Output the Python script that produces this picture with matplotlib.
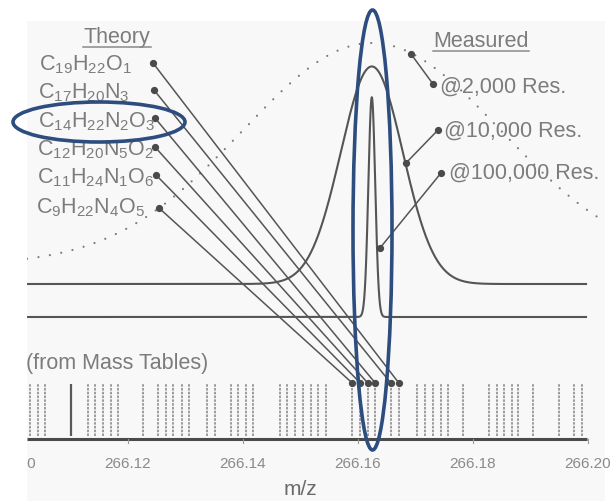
import numpy as np
import matplotlib
matplotlib.use("Agg")
import matplotlib.pyplot as plt
from matplotlib.patches import Ellipse, Rectangle

plt.rcParams["font.family"] = ["Liberation Sans", "DejaVu Sans"]

# ---------------- data ----------------
formulas = [r"C_{19}H_{22}O_{1}", r"C_{17}H_{20}N_{3}", r"C_{14}H_{22}N_{2}O_{3}",
            r"C_{12}H_{20}N_{5}O_{2}", r"C_{11}H_{24}N_{1}O_{6}", r"C_{9}H_{22}N_{4}O_{5}"]
formula_mz = [266.1671, 266.1657, 266.1630, 266.1617, 266.1604, 266.1590]

table_mz = [266.1030, 266.1043, 266.1056,
            266.1130, 266.1143, 266.1157, 266.1170, 266.1183,
            266.1226,
            266.1252, 266.1266, 266.1278, 266.1294, 266.1306,
            266.1337, 266.1351,
            266.1379, 266.1391, 266.1405, 266.1417,
            266.1464, 266.1477, 266.1490, 266.1504, 266.1518, 266.1530, 266.1544,
            266.1703, 266.1717, 266.1730, 266.1744, 266.1757,
            266.1783,
            266.1828, 266.1842, 266.1854, 266.1868, 266.1878,
            266.1904, 266.1950, 266.1976, 266.1990]
marked_table_mz = [266.1101]

resolution_labels = ["@2,000 Res.", "@10,000 Res.", "@100,000 Res."]
peak_center = 266.1624
peak_fwhm = [0.0528, 0.0127, 0.00140]
peak_height = [1.0, 0.98, 0.99]

tick_values = [266.10, 266.12, 266.14, 266.16, 266.18, 266.20]
tick_labels = ["266.10", "266.12", "266.14", "266.16", "266.18", "266.20"]

# ---------------- layout helpers (pixel grid of the canvas) ----------------
W, H = 610, 501
PX_PER_MZ = 5750.0
MZ0_PX = 13.0


def X(px):
    return 266.10 + (px - MZ0_PX) / PX_PER_MZ


def Y(py):
    return H - py


INK = "#555555"
TEXT = "#7c7c7c"
BLUE = "#2e4d7f"
FS = 15.5

fig = plt.figure(figsize=(W / 100, H / 100), dpi=100)
fig.patch.set_facecolor("white")
ax = fig.add_axes([0, 0, 1, 1])
ax.set_xlim(X(0), X(W))
ax.set_ylim(0, H)
ax.axis("off")

# scanned page area
ax.add_patch(Rectangle((X(27), Y(501)), X(605) - X(27), Y(21) - Y(501),
                       facecolor="#f8f8f8", edgecolor="none", zorder=0))

# ---------------- measured profiles ----------------
amp = 222.0
trace_base = [265, 284, 317]
for i, (fw, h, base) in enumerate(zip(peak_fwhm, peak_height, trace_base)):
    sigma = fw / 2.3548
    if i == 0:
        xs = np.linspace(X(27), X(600), 1500)
    else:
        xs = np.linspace(X(27), X(586), 6000)
    ys = Y(base) + amp * h * np.exp(-0.5 * ((xs - peak_center) / sigma) ** 2)
    if i == 0:
        ax.plot(xs, ys, color="#7a7a7a", lw=1.6, linestyle=(0, (0.01, 5.2)),
                dash_capstyle="round", zorder=2)
    else:
        ax.plot(xs, ys, color=INK, lw=1.5, zorder=2, solid_joinstyle="round")

# ---------------- mass table sticks ----------------
stick_bot, stick_top = Y(436), Y(384)
all_sticks = table_mz + formula_mz
ax.vlines(all_sticks, stick_bot, stick_top, colors="#959595", lw=1.3,
          linestyles=(0, (1.4, 0.7)), zorder=2)
ax.vlines(marked_table_mz, stick_bot, stick_top, colors="#5a5a5a", lw=1.6, zorder=2)

# axis baseline and ticks
ax.plot([X(27), X(587)], [Y(439), Y(439)], color="#4a4a4a", lw=2.2,
        solid_capstyle="butt", zorder=3)
for v in tick_values[1:]:
    ax.plot([v, v], [Y(439), Y(443)], color="#9a9a9a", lw=0.8, zorder=3)
for v, lab in zip(tick_values, tick_labels):
    ax.text(v, Y(468), lab, ha="center", va="baseline", fontsize=11,
            color="#8a8a8a", zorder=3)
ax.text(X(300), Y(495), "m/z", ha="center", va="baseline", fontsize=15,
        color="#6a6a6a", zorder=3)
ax.text(X(26), Y(369), "(from Mass Tables)", ha="left", va="baseline",
        fontsize=FS, color=TEXT, zorder=3)

# ---------------- theory labels and connectors ----------------
ax.text(X(83), Y(43), "Theory", ha="left", va="baseline", fontsize=FS,
        color=TEXT, zorder=3)
ax.plot([X(83), X(151)], [Y(47), Y(47)], color="#8a8a8a", lw=1.1, zorder=3)

label_x = [39, 38, 38, 37, 37, 36]
label_base = [70, 98, 127, 155, 183, 213]
dot_x = [153, 154, 155, 155, 156, 159]
dot_y = [63, 90, 118, 147, 175, 208]
for f, mz, lx, lb, dx, dy in zip(formulas, formula_mz, label_x, label_base, dot_x, dot_y):
    ax.text(X(lx), Y(lb), r"$\mathregular{" + f + "}$", ha="left", va="baseline",
            fontsize=FS, color=TEXT, zorder=3)
    ax.plot([X(dx), mz], [Y(dy), Y(383)], color=INK, lw=1.1, zorder=4)
    ax.plot([X(dx), mz], [Y(dy), Y(383)], linestyle="none", marker="o",
            ms=4.2, color="#4a4a4a", zorder=4)

# ---------------- measured labels ----------------
ax.text(X(433), Y(47), "Measured", ha="left", va="baseline", fontsize=FS,
        color=TEXT, zorder=3)
ax.plot([X(433), X(529)], [Y(51), Y(51)], color="#8a8a8a", lw=1.1, zorder=3)

leader_start = [(411, 54), (406, 163), (380, 248)]
leader_end = [(433, 84), (438, 130), (441, 173)]
label_pos = [(440, 93), (444, 137), (449, 179)]
for lab, (sx, sy), (ex, ey), (tx, ty) in zip(resolution_labels, leader_start,
                                             leader_end, label_pos):
    ax.plot([X(sx), X(ex)], [Y(sy), Y(ey)], color=INK, lw=1.1, zorder=4)
    ax.plot([X(sx), X(ex)], [Y(sy), Y(ey)], linestyle="none", marker="o",
            ms=4.2, color="#4a4a4a", zorder=4)
    ax.text(X(tx), Y(ty), lab, ha="left", va="baseline", fontsize=FS,
            color=TEXT, zorder=3)

# page margins outside the scanned area
ax.add_patch(Rectangle((X(0), Y(501)), X(27) - X(0), H, facecolor="white",
                       edgecolor="none", zorder=6))
ax.add_patch(Rectangle((X(0), Y(21)), X(W) - X(0), 21, facecolor="white",
                       edgecolor="none", zorder=6))

# ---------------- highlight ellipses ----------------
ax.add_patch(Ellipse((X(372.5), Y(230)), X(392) - X(353), 440, fill=False,
                     edgecolor=BLUE, lw=2.6, zorder=10))
ax.add_patch(Ellipse((X(99), Y(122)), X(185) - X(13), 40, fill=False,
                     edgecolor=BLUE, lw=2.6, zorder=10))

fig.savefig("out.png", dpi=100, facecolor=fig.get_facecolor())
